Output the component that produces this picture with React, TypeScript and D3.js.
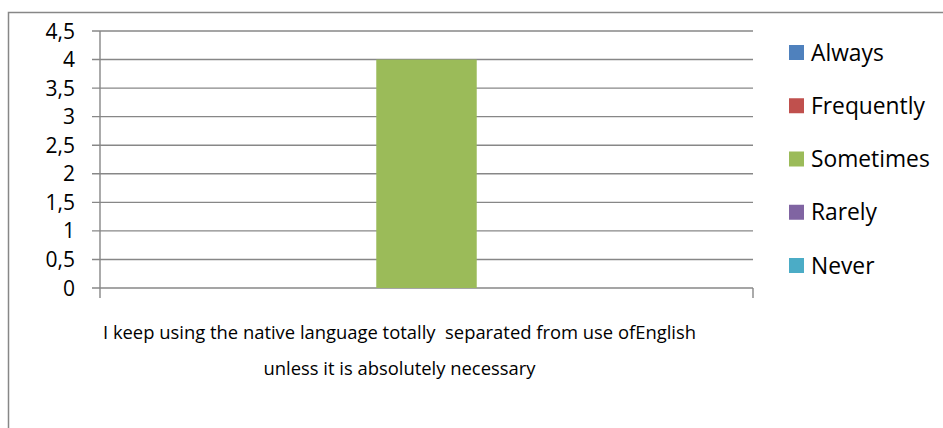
import React from "react";
import * as d3 from "d3";

const categories = ["I keep using the native language totally  separated from use ofEnglish|unless it is absolutely necessary"];
const seriesNames = ["Always", "Frequently", "Sometimes", "Rarely", "Never"];
const seriesColors = ["#4f81bd", "#c0504d", "#9bbb59", "#8064a2", "#4bacc6"];
const seriesValues = [[0], [0], [4], [0], [0]];
const yTicks = [0, 0.5, 1, 1.5, 2, 2.5, 3, 3.5, 4, 4.5];

export default function App() {
  const W = 943, H = 428;
  const left = 100, right = 753, top = 31, bottom = 288;
  const y = d3.scaleLinear().domain([0, 4.5]).range([bottom, top]);
  const x0 = d3.scaleBand().domain(categories).range([left, right]).paddingInner(0).paddingOuter(0);
  const bw = x0.bandwidth();
  const barW = bw / (seriesNames.length + 1.5);
  const x1 = d3.scaleBand().domain(seriesNames).range([0, barW * seriesNames.length]);
  const fmt = (v: number) => String(v).replace(".", ",");
  const grid = "#878787";
  const font = "'Open Sans', sans-serif";
  return (
    <svg width={W} height={H} style={{ position: "absolute", left: 0, top: 0 }}>
      <rect x={0} y={0} width={W} height={H} fill="#fff" />
      <rect x={8.5} y={12.5} width={W + 20} height={H + 20} fill="none" stroke={grid} strokeWidth={1.5} />
      {yTicks.map((t) => (
        <g key={t}>
          <line x1={left - 8} x2={right} y1={y(t)} y2={y(t)} stroke={grid} strokeWidth={1.4} />
          <text x={75} y={y(t)} dy="0.36em" textAnchor="end" fontFamily={font} fontSize={21} fill="#000">
            {fmt(t)}
          </text>
        </g>
      ))}
      <line x1={left} x2={left} y1={top} y2={bottom + 10} stroke={grid} strokeWidth={1.4} />
      <line x1={right} x2={right} y1={bottom} y2={bottom + 10} stroke={grid} strokeWidth={1.4} />
      {categories.map((c) => {
        const cx = (x0(c) as number) + bw / 2;
        const start = cx - (barW * seriesNames.length) / 2;
        return (
          <g key={c}>
            {seriesNames.map((s, i) => {
              const v = seriesValues[i][0];
              if (!v) return null;
              return (
                <rect key={s} x={start + (x1(s) as number)} y={y(v)} width={x1.bandwidth()} height={y(0) - y(v)} fill={seriesColors[i]} />
              );
            })}
            {c.split("|").map((line, li) => (
              <text key={li} x={cx - 27} y={339 + li * 36} textAnchor="middle" fontFamily={font} fontSize={18.4} fill="#000" style={{ whiteSpace: "pre" }}>
                {line}
              </text>
            ))}
          </g>
        );
      })}
      {seriesNames.map((s, i) => {
        const cy = 52.5 + i * 53.25;
        return (
          <g key={s}>
            <rect x={789} y={cy - 7.5} width={15} height={15} fill={seriesColors[i]} />
            <text x={811} y={cy} dy="0.36em" fontFamily={font} fontSize={22.8} fill="#000">
              {s}
            </text>
          </g>
        );
      })}
    </svg>
  );
}
